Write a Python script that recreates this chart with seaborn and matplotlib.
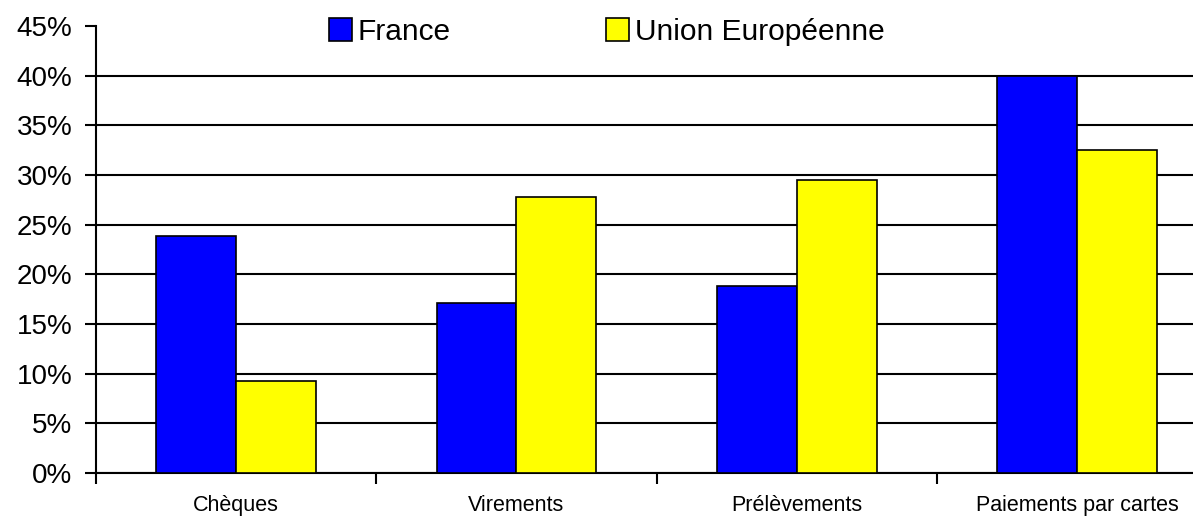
import pandas as pd
import matplotlib.pyplot as plt
import seaborn as sns
from matplotlib.ticker import FixedLocator, PercentFormatter

# Data (percent)
categories = ['Chèques', 'Virements', 'Prélèvements', 'Paiements par cartes']
france = [23.9, 17.1, 18.8, 40.0]
union_europeenne = [9.3, 27.8, 29.5, 32.5]

df = pd.DataFrame({
    'Catégorie': categories * 2,
    'Part': france + union_europeenne,
    'Zone': ['France'] * 4 + ['Union Européenne'] * 4,
})

sns.set_style('white')
plt.rcParams['font.family'] = ['Liberation Sans', 'DejaVu Sans']
plt.rcParams['text.color'] = 'black'
plt.rcParams['xtick.color'] = 'black'
plt.rcParams['ytick.color'] = 'black'

fig = plt.figure(figsize=(11.93, 5.26), dpi=100)
ax = fig.add_axes([0.0805, 0.1008, 0.9397, 0.8498])

sns.barplot(data=df, x='Catégorie', y='Part', hue='Zone',
            palette={'France': '#0000FF', 'Union Européenne': '#FFFF00'},
            width=0.57, edgecolor='black', linewidth=1.2, saturation=1,
            ax=ax, zorder=3)

ax.set_ylim(0, 45)
ax.set_xlim(-0.5, 3.5)
ax.yaxis.set_major_locator(FixedLocator(range(0, 50, 5)))
ax.yaxis.set_major_formatter(PercentFormatter(decimals=0))
ax.grid(axis='y', color='black', linewidth=1.5, zorder=0)
ax.set_axisbelow(True)
# no gridline at the top (45%)
ax.get_ygridlines()[-1].set_visible(False)

# ticks between categories, labels centred
ax.set_xticks([0, 1, 2, 3])
ax.set_xticklabels(categories, fontsize=15.5)
ax.set_xticks([-0.5, 0.5, 1.5, 2.5], minor=True)
ax.tick_params(axis='x', which='major', length=0, pad=16)
ax.tick_params(axis='x', which='minor', length=8, width=1.5, direction='out')
ax.tick_params(axis='y', length=8, width=1.5, direction='out', labelsize=20, pad=9)
ax.tick_params(axis='both', which='both', bottom=True, left=True)

ax.set_xlabel('')
ax.set_ylabel('')
for side in ['top', 'right']:
    ax.spines[side].set_visible(False)
for side in ['left', 'bottom']:
    ax.spines[side].set_color('black')
    ax.spines[side].set_linewidth(1.5)

leg = ax.legend(loc='center', bbox_to_anchor=(607 / 1193, 1 - 32 / 526),
                bbox_transform=fig.transFigure,
                ncol=2, frameon=False, fontsize=21.5, handlelength=0.77, handleheight=0.77,
                handletextpad=0.2, columnspacing=5.2)

fig.savefig('out.png', dpi=100)
